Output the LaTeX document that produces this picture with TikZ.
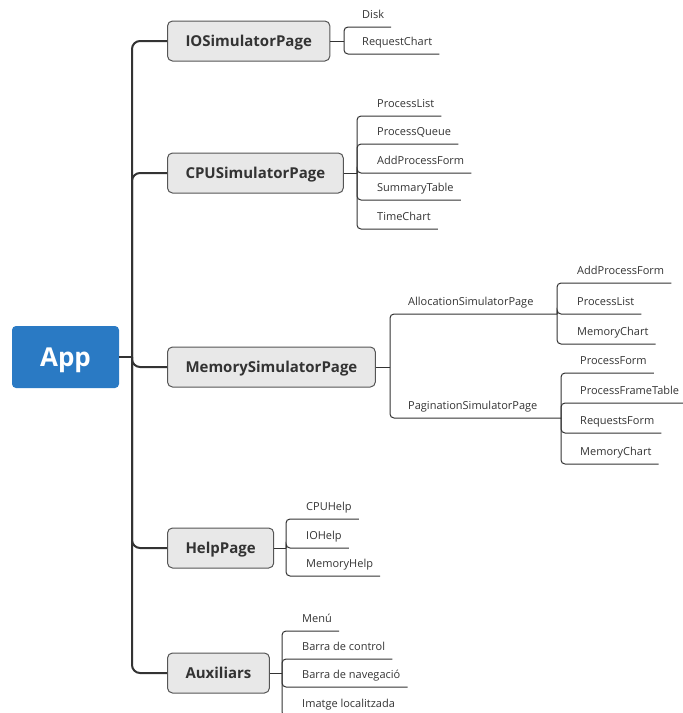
\documentclass[tikz,border=0pt]{standalone}
\usepackage{fontspec}
\setmainfont{Open Sans}
\usepackage{tikz}
\usetikzlibrary{calc}
\definecolor{appblue}{HTML}{2A7AC4}
\definecolor{boxgray}{HTML}{E8E8E8}
\definecolor{boxline}{HTML}{555555}
\definecolor{inkgray}{HTML}{333333}
\tikzset{
	appbox/.style={fill=appblue, rounded corners=4pt, minimum width=107pt, minimum height=62pt,
		text height=19pt, text depth=0pt, text=white, font=\fontsize{26}{30}\selectfont\bfseries},
	pagebox/.style={anchor=west, fill=boxgray, draw=boxline, line width=1pt, rounded corners=5pt,
		minimum height=40pt, inner xsep=18pt, text height=11pt, text depth=0.5pt,
		text=inkgray, font=\fontsize{15}{18}\selectfont\bfseries},
	leaf/.style={anchor=south west, inner sep=0pt, text height=8pt, text depth=8pt,
		text=inkgray, font=\fontsize{11}{13}\selectfont},
	trunk/.style={draw=inkgray, line width=2pt, rounded corners=8pt},
	twig/.style={draw=inkgray, line width=1pt, rounded corners=4pt}
}
\newcommand{\leaf}[5]{
	\node[leaf] (#1) at (#3,#4) {#5};
	\draw[twig] (#2) |- (#1.south west) -- ([xshift=7pt]#1.south east);
}

\begin{document}
\begin{tikzpicture}[x=1pt,y=-1pt]
	\useasboundingbox (0,0) rectangle (683,713);

	\node[appbox] (app) at (65.5,357) {App};
	\node[pagebox] (io) at (167,41) {IOSimulatorPage};
	\node[pagebox] (cpu) at (167,173) {CPUSimulatorPage};
	\node[pagebox] (mem) at (167,367) {MemorySimulatorPage};
	\node[pagebox] (help) at (167,548) {HelpPage};
	\node[pagebox] (aux) at (167,673) {Auxiliars};

	\coordinate (hub) at (132,357);
	\coordinate (ioB) at (344,41);
	\coordinate (cpuB) at (357,173);
	\coordinate (memB) at (390,367);
	\coordinate (allocB) at (557,314);
	\coordinate (pagB) at (561,418);
	\coordinate (helpB) at (286,548);
	\coordinate (auxB) at (282,673);

	\draw[trunk] (app.east) -- (hub);
	\draw[trunk] (hub) |- (io.west);
	\draw[trunk] (hub) |- (cpu.west);
	\draw[trunk] (hub) |- (mem.west);
	\draw[trunk] (hub) |- (help.west);
	\draw[trunk] (hub) |- (aux.west);

	\draw[twig] (io.east) -- (ioB);
	\draw[twig] (cpu.east) -- (cpuB);
	\draw[twig] (mem.east) -- (memB);
	\draw[twig] (help.east) -- (helpB);
	\draw[twig] (aux.east) -- (auxB);

	\leaf{disk}{ioB}{362}{27}{Disk}
	\leaf{reqChart}{ioB}{362}{54}{RequestChart}

	\leaf{cpuList}{cpuB}{377}{116}{ProcessList}
	\leaf{cpuQueue}{cpuB}{377}{144}{ProcessQueue}
	\leaf{cpuAdd}{cpuB}{377}{173}{AddProcessForm}
	\leaf{cpuSummary}{cpuB}{377}{200}{SummaryTable}
	\leaf{cpuTime}{cpuB}{377}{229}{TimeChart}

	\node[leaf] (alloc) at (408,314) {AllocationSimulatorPage};
	\draw[twig] (memB) |- (alloc.south west) -- (allocB);
	\node[leaf] (pag) at (408,418) {PaginationSimulatorPage};
	\draw[twig] (memB) |- (pag.south west) -- (pagB);

	\leaf{allocAdd}{allocB}{577}{283}{AddProcessForm}
	\leaf{allocList}{allocB}{577}{314}{ProcessList}
	\leaf{allocChart}{allocB}{577}{344}{MemoryChart}

	\leaf{pagForm}{pagB}{580}{373}{ProcessForm}
	\leaf{pagFrame}{pagB}{580}{403}{ProcessFrameTable}
	\leaf{pagReq}{pagB}{580}{433}{RequestsForm}
	\leaf{pagChart}{pagB}{580}{464}{MemoryChart}

	\leaf{cpuHelp}{helpB}{306}{519}{CPUHelp}
	\leaf{ioHelp}{helpB}{306}{548}{IOHelp}
	\leaf{memHelp}{helpB}{306}{576}{MemoryHelp}

	\leaf{menu}{auxB}{302}{631}{Menú}
	\leaf{ctrlBar}{auxB}{302}{659}{Barra de control}
	\leaf{navBar}{auxB}{302}{687}{Barra de navegació}
	\leaf{locImg}{auxB}{302}{716}{Imatge localitzada}
\end{tikzpicture}
\end{document}
